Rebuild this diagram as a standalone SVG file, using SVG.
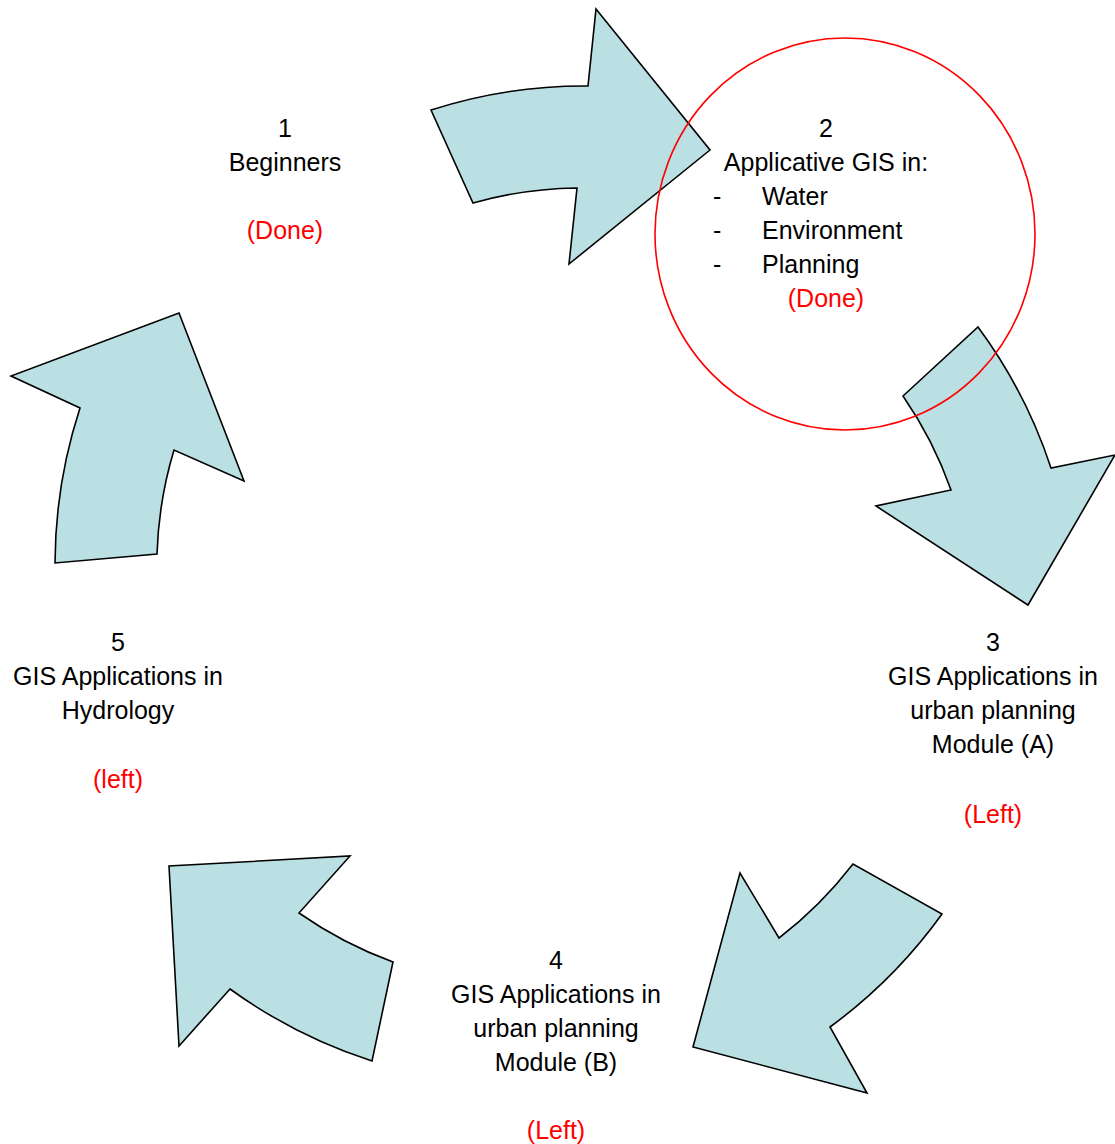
<svg xmlns="http://www.w3.org/2000/svg" width="1115" height="1144" viewBox="0 0 1115 1144">
<style>
.arrow{fill:#BAE0E3;stroke:#000;stroke-width:1.6;stroke-linejoin:miter}
text{font-family:"Liberation Sans",Arial,sans-serif;font-size:25px;fill:#000}
.c{text-anchor:middle}
.red{fill:#FF0000}
</style>
<rect width="1115" height="1144" fill="#fff"/>
<g id="connectors">
<path id="arrow1" class="arrow" d="M431,110 A500,500 0 0 1 588,86 L596,9 L710,150 L569,264 L577,188 A400,400 0 0 0 473,203 Z"/>
<path id="arrow2" class="arrow" d="M978,327 A500,500 0 0 1 1051,468 L1115,455 L1028,605 L876,506 L951,490 A400,400 0 0 0 903,396 Z"/>
<path id="arrow3" class="arrow" d="M942,914 A505,505 0 0 1 830,1027 L867,1093 L693,1047 L740,873 L779,938 A405,405 0 0 0 853,864 Z"/>
<path id="arrow4" class="arrow" d="M372,1061 A510,510 0 0 1 230,989 L179,1046 L169,866 L350,856 L299,913 A410,410 0 0 0 393,962 Z"/>
<path id="arrow5" class="arrow" d="M55,563 A505,505 0 0 1 80,408 L11,376 L179,313 L244,481 L174,450 A405,405 0 0 0 157,554 Z"/>
</g>
<ellipse id="highlight" cx="845" cy="234" rx="190" ry="196" fill="none" stroke="#FF0000" stroke-width="1.6"/>
<g id="node1">
<text class="c" x="285" y="137">1</text>
<text class="c" x="285" y="171">Beginners</text>
<text class="c red" x="285" y="239">(Done)</text>
</g>
<g id="node2">
<text class="c" x="826" y="137">2</text>
<text class="c" x="826" y="171">Applicative GIS in:</text>
<text x="713" y="205">-</text><text x="762" y="205">Water</text>
<text x="713" y="239">-</text><text x="762" y="239">Environment</text>
<text x="713" y="273">-</text><text x="762" y="273">Planning</text>
<text class="c red" x="826" y="307">(Done)</text>
</g>
<g id="node3">
<text class="c" x="993" y="651">3</text>
<text class="c" x="993" y="685">GIS Applications in</text>
<text class="c" x="993" y="719">urban planning</text>
<text class="c" x="993" y="753">Module (A)</text>
<text class="c red" x="993" y="823">(Left)</text>
</g>
<g id="node4">
<text class="c" x="556" y="969">4</text>
<text class="c" x="556" y="1003">GIS Applications in</text>
<text class="c" x="556" y="1037">urban planning</text>
<text class="c" x="556" y="1071">Module (B)</text>
<text class="c red" x="556" y="1139">(Left)</text>
</g>
<g id="node5">
<text class="c" x="118" y="651">5</text>
<text class="c" x="118" y="685">GIS Applications in</text>
<text class="c" x="118" y="719">Hydrology</text>
<text class="c red" x="118" y="788">(left)</text>
</g>
</svg>
